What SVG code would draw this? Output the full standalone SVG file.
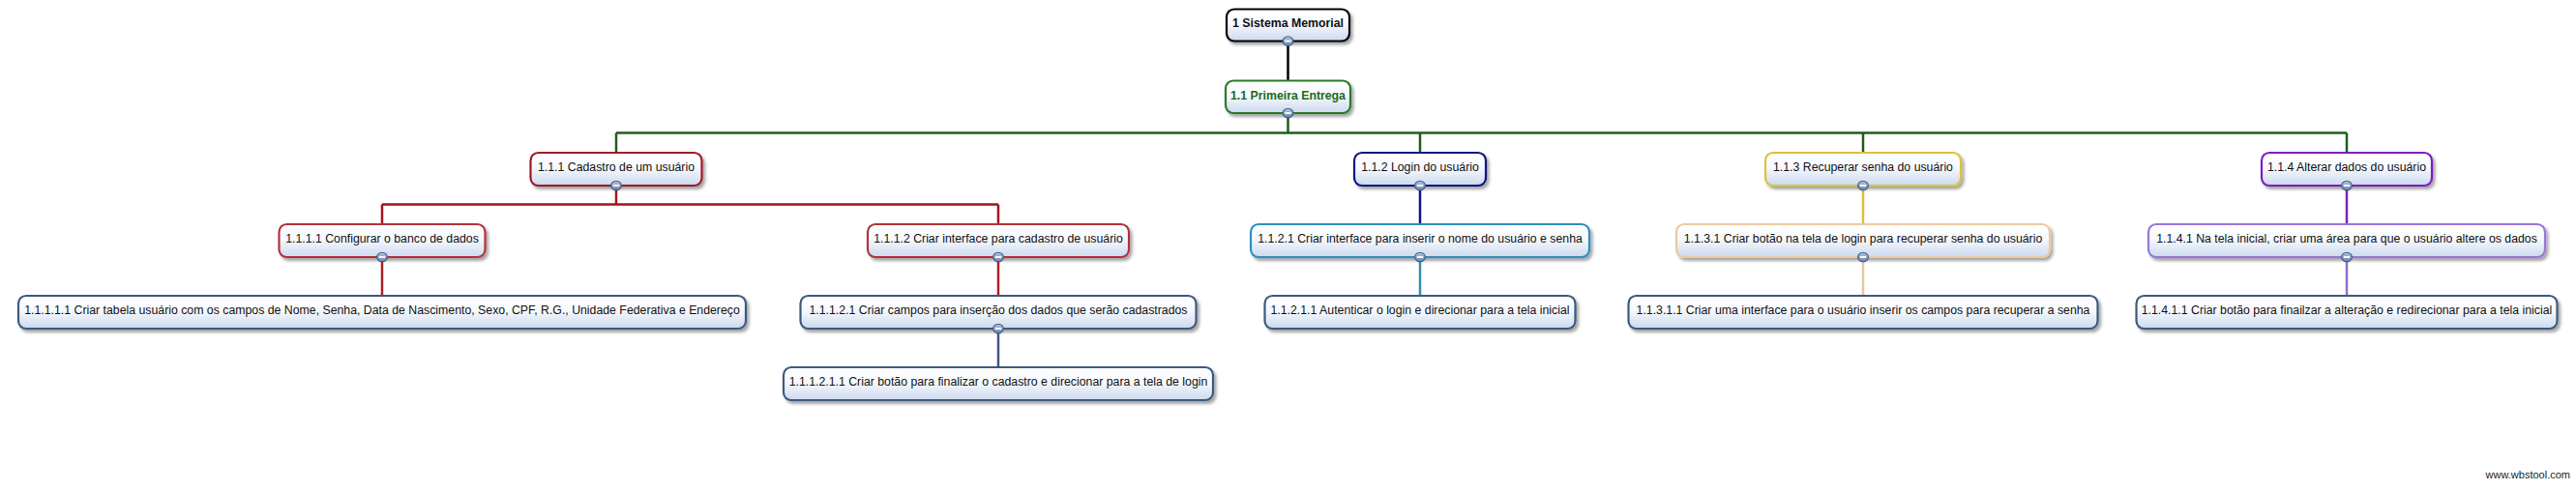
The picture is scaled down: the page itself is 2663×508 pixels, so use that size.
<svg xmlns="http://www.w3.org/2000/svg" width="2663" height="508" viewBox="0 0 2663 508">
<defs>
<linearGradient id="boxFill" x1="0" y1="0" x2="0" y2="1">
<stop offset="0" stop-color="#ffffff"/>
<stop offset="0.45" stop-color="#f7f9fd"/>
<stop offset="1" stop-color="#cbd9ee"/>
</linearGradient>
<linearGradient id="knobFill" x1="0" y1="0" x2="0" y2="1">
<stop offset="0" stop-color="#b3c3dd"/>
<stop offset="1" stop-color="#6a85ae"/>
</linearGradient>
<filter id="shadow" x="-5%" y="-30%" width="110%" height="170%">
<feDropShadow dx="2.5" dy="3" stdDeviation="1.6" flood-color="#000" flood-opacity="0.35"/>
</filter>
<g id="knob">
<ellipse cx="0" cy="0" rx="5.4" ry="4.8" fill="url(#knobFill)" stroke="#3d5a86" stroke-width="1.1"/>
<rect x="-3.2" y="-0.9" width="6.4" height="1.8" fill="#ffffff"/>
</g>
</defs>
<style>
.box{fill:url(#boxFill);stroke-width:2.2;filter:url(#shadow)}
.t{font-family:"Liberation Sans",Arial,sans-serif;font-size:12.3px;fill:#111;text-anchor:middle}
.b{font-weight:bold}
.c{fill:none;stroke-width:2.5}
.wm{font-family:"Liberation Sans",Arial,sans-serif;font-size:11px;fill:#222;text-anchor:end}
</style>
<rect width="2663" height="508" fill="#ffffff"/>

<g id="connectors">
<path class="c" stroke="#000000" d="M1331.5 42.5 V84"/>
<path class="c" stroke="#1e5e1e" d="M1331.5 117 V137.5 M637 137.5 H2426 M637 137.5 V158 M1468 137.5 V158 M1926 137.5 V158 M2426 137.5 V158"/>
<path class="c" stroke="#a3161e" d="M637 192 V211.5 M395 211.5 H1032 M395 211.5 V232 M1032 211.5 V232"/>
<path class="c" stroke="#aa2028" d="M395 266 V306"/>
<path class="c" stroke="#aa2028" d="M1032 266 V306"/>
<path class="c" stroke="#3d5a7e" d="M1032 340 V380"/>
<path class="c" stroke="#12128a" d="M1468 192 V232"/>
<path class="c" stroke="#3a8cb4" d="M1468 266 V306"/>
<path class="c" stroke="#d8c040" d="M1926 192 V232"/>
<path class="c" stroke="#e6c8a4" d="M1926 266 V306"/>
<path class="c" stroke="#7a22b4" d="M2426 192 V232"/>
<path class="c" stroke="#9070cc" d="M2426 266 V306"/>
</g>

<g id="n1">
<rect class="box" x="1268" y="9.5" width="127" height="33" rx="8" stroke="#000000"/>
<text class="t b" x="1331.5" y="28">1 Sistema Memorial</text>
<use href="#knob" x="1331.5" y="42.5"/>
</g>
<g id="n1_1">
<rect class="box" x="1267" y="83.5" width="129" height="33.5" rx="8" stroke="#2a7a2a"/>
<text class="t b" x="1331.5" y="102.5" style="fill:#1a6b1a">1.1 Primeira Entrega</text>
<use href="#knob" x="1331.5" y="117"/>
</g>
<g id="n1_1_1">
<rect class="box" x="548.5" y="158" width="177" height="34" rx="8" stroke="#9e1b24"/>
<text class="t" x="637" y="177">1.1.1 Cadastro de um usuário</text>
<use href="#knob" x="637" y="192"/>
</g>
<g id="n1_1_2">
<rect class="box" x="1400" y="158" width="136" height="34" rx="8" stroke="#141482"/>
<text class="t" x="1468" y="177">1.1.2 Login do usuário</text>
<use href="#knob" x="1468" y="192"/>
</g>
<g id="n1_1_3">
<rect class="box" x="1825" y="158" width="202" height="34" rx="8" stroke="#dcc23a"/>
<text class="t" x="1926" y="177">1.1.3 Recuperar senha do usuário</text>
<use href="#knob" x="1926" y="192"/>
</g>
<g id="n1_1_4">
<rect class="box" x="2338" y="158" width="176" height="34" rx="8" stroke="#7d1fbf"/>
<text class="t" x="2426" y="177">1.1.4 Alterar dados do usuário</text>
<use href="#knob" x="2426" y="192"/>
</g>

<g id="n1_1_1_1">
<rect class="box" x="288.5" y="232" width="213" height="34" rx="8" stroke="#b3323a"/>
<text class="t" x="395" y="251">1.1.1.1 Configurar o banco de dados</text>
<use href="#knob" x="395" y="266"/>
</g>
<g id="n1_1_1_2">
<rect class="box" x="897" y="232" width="270" height="34" rx="8" stroke="#b3323a"/>
<text class="t" x="1032" y="251">1.1.1.2 Criar interface para cadastro de usuário</text>
<use href="#knob" x="1032" y="266"/>
</g>
<g id="n1_1_2_1">
<rect class="box" x="1293" y="232" width="350" height="34" rx="8" stroke="#2e8fc0"/>
<text class="t" x="1468" y="251">1.1.2.1 Criar interface para inserir o nome do usuário e senha</text>
<use href="#knob" x="1468" y="266"/>
</g>
<g id="n1_1_3_1">
<rect class="box" x="1733" y="232" width="386" height="34" rx="8" stroke="#ecc9a0"/>
<text class="t" x="1926" y="251">1.1.3.1 Criar botão na tela de login para recuperar senha do usuário</text>
<use href="#knob" x="1926" y="266"/>
</g>
<g id="n1_1_4_1">
<rect class="box" x="2221" y="232" width="410" height="34" rx="8" stroke="#9874dc"/>
<text class="t" x="2426" y="251">1.1.4.1 Na tela inicial, criar uma área para que o usuário altere os dados</text>
<use href="#knob" x="2426" y="266"/>
</g>

<g id="n1_1_1_1_1">
<rect class="box" x="19" y="306" width="752" height="34" rx="8" stroke="#3d5a7e"/>
<text class="t" x="395" y="325">1.1.1.1.1 Criar tabela usuário com os campos de Nome, Senha, Data de Nascimento, Sexo, CPF, R.G., Unidade Federativa e Endereço</text>
</g>
<g id="n1_1_1_2_1">
<rect class="box" x="827.5" y="306" width="409" height="34" rx="8" stroke="#3d5a7e"/>
<text class="t" x="1032" y="325">1.1.1.2.1 Criar campos para inserção dos dados que serão cadastrados</text>
<use href="#knob" x="1032" y="340"/>
</g>
<g id="n1_1_2_1_1">
<rect class="box" x="1307.5" y="306" width="321" height="34" rx="8" stroke="#3d5a7e"/>
<text class="t" x="1468" y="325">1.1.2.1.1 Autenticar o login e direcionar para a tela inicial</text>
</g>
<g id="n1_1_3_1_1">
<rect class="box" x="1683.5" y="306" width="485" height="34" rx="8" stroke="#3d5a7e"/>
<text class="t" x="1926" y="325">1.1.3.1.1 Criar uma interface para o usuário inserir os campos para recuperar a senha</text>
</g>
<g id="n1_1_4_1_1">
<rect class="box" x="2208.5" y="306" width="435" height="34" rx="8" stroke="#3d5a7e"/>
<text class="t" x="2426" y="325">1.1.4.1.1 Criar botão para finailzar a alteração e redirecionar para a tela inicial</text>
</g>

<g id="n1_1_1_2_1_1">
<rect class="box" x="810" y="380" width="444" height="34" rx="8" stroke="#3d5a7e"/>
<text class="t" x="1032" y="399">1.1.1.2.1.1 Criar botão para finalizar o cadastro e direcionar para a tela de login</text>
</g>

<text class="wm" x="2657" y="495">www.wbstool.com</text>
</svg>
